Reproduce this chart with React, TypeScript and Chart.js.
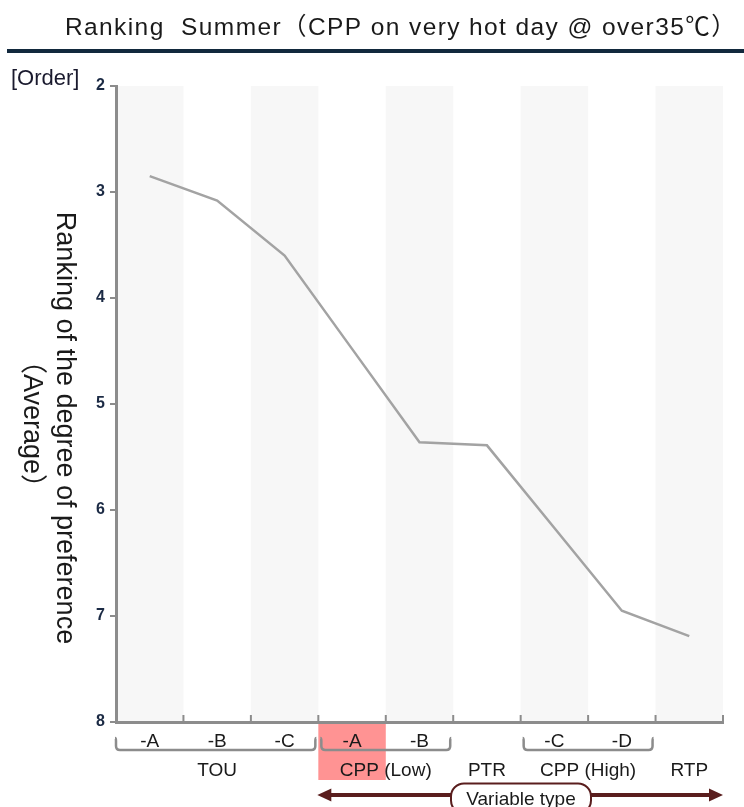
import React, { useEffect, useRef } from "react";
import { Chart, registerables } from "chart.js";

Chart.register(...registerables);

const chartTitle = "Ranking  Summer（CPP on very hot day @ over35℃）";
const yAxisTitleLines = ["Ranking of the degree of preference", "（Average）"];
const yUnitLabel = "[Order]";
const categoryKeys = ["TOU-A", "TOU-B", "TOU-C", "CPPL-A", "CPPL-B", "PTR", "CPPH-C", "CPPH-D", "RTP"];
const subLabels = ["-A", "-B", "-C", "-A", "-B", "", "-C", "-D", ""];
const groupNames = ["TOU", "CPP (Low)", "PTR", "CPP (High)", "RTP"];
const groupStarts = [0, 3, 5, 6, 8];
const groupEnds = [2, 4, 5, 7, 8];
const rankValues = [2.85, 3.08, 3.6, 4.48, 5.36, 5.39, 6.17, 6.95, 7.19];
const highlightIndex = 3;
const arrowLabel = "Variable type";
const yMin = 2;
const yMax = 8;

const FONT = "'Liberation Sans', Arial, 'Noto Sans CJK JP', sans-serif";
const AXIS_GRAY = "#8c8c8c";
const MAROON = "#5a1e1e";
const TEXT = "#1a1a1a";

const decorPlugin = {
  id: "decor",
  beforeDraw(chart: any) {
    const { ctx, chartArea } = chart;
    const { left, right, top, bottom } = chartArea;
    const n = categoryKeys.length;
    const w = (right - left) / n;
    ctx.save();
    ctx.fillStyle = "#ffffff";
    ctx.fillRect(0, 0, chart.width, chart.height);
    ctx.fillStyle = "#f7f7f7";
    for (let i = 0; i < n; i += 2) {
      ctx.fillRect(left + i * w, top, w, bottom - top);
    }
    ctx.fillStyle = "#ff9393";
    ctx.fillRect(left + highlightIndex * w, bottom, w, 58);
    ctx.restore();
  },
  afterDraw(chart: any) {
    const { ctx, chartArea } = chart;
    const { left, right, bottom } = chartArea;
    const n = categoryKeys.length;
    const w = (right - left) / n;
    const xs = chart.scales.x;
    ctx.save();

    // title
    ctx.fillStyle = TEXT;
    ctx.font = `24.5px ${FONT}`;
    ctx.textAlign = "center";
    ctx.textBaseline = "alphabetic";
    (ctx as any).letterSpacing = "1.4px";
    ctx.fillText(chartTitle, 401, 35);
    (ctx as any).letterSpacing = "0px";

    // separator
    ctx.strokeStyle = "#12293d";
    ctx.lineWidth = 4;
    ctx.beginPath();
    ctx.moveTo(7, 51);
    ctx.lineTo(chart.width, 51);
    ctx.stroke();

    // unit label
    ctx.fillStyle = "#1a1a2e";
    ctx.font = `22px ${FONT}`;
    ctx.textAlign = "left";
    ctx.fillText(yUnitLabel, 11, 85);

    // y title rotated clockwise
    ctx.fillStyle = TEXT;
    ctx.font = `27px ${FONT}`;
    ctx.textAlign = "center";
    ctx.textBaseline = "middle";
    const ytPos = [
      [64, 428],
      [31, 424],
    ];
    yAxisTitleLines.forEach((line, i) => {
      ctx.save();
      ctx.translate(ytPos[i][0], ytPos[i][1]);
      ctx.rotate(Math.PI / 2);
      ctx.fillText(line, 0, 0);
      ctx.restore();
    });

    // inward ticks on x axis
    ctx.strokeStyle = AXIS_GRAY;
    ctx.lineWidth = 2;
    for (let i = 1; i <= n; i++) {
      const x = left + i * w;
      ctx.beginPath();
      ctx.moveTo(x, bottom);
      ctx.lineTo(x, bottom - 7);
      ctx.stroke();
    }

    // sub labels
    ctx.fillStyle = TEXT;
    ctx.font = `19px ${FONT}`;
    ctx.textAlign = "center";
    ctx.textBaseline = "alphabetic";
    subLabels.forEach((lab, i) => {
      if (lab) ctx.fillText(lab, xs.getPixelForValue(i), 746.5);
    });

    // brackets & group labels
    ctx.strokeStyle = AXIS_GRAY;
    ctx.lineWidth = 2.5;
    groupNames.forEach((name, g) => {
      const s = groupStarts[g];
      const e = groupEnds[g];
      const cx = (xs.getPixelForValue(s) + xs.getPixelForValue(e)) / 2;
      ctx.fillText(name, cx, 776);
      if (e > s) {
        const x1 = left + s * w + (s === 0 ? 0 : 3);
        const x2 = left + (e + 1) * w - 3;
        const yTop = 738;
        const yB = 750;
        ctx.beginPath();
        ctx.moveTo(x1 - 1, yTop);
        ctx.quadraticCurveTo(x1, yTop, x1, yTop + 3);
        ctx.lineTo(x1, yB - 4);
        ctx.quadraticCurveTo(x1, yB, x1 + 4, yB);
        ctx.lineTo(x2 - 4, yB);
        ctx.quadraticCurveTo(x2, yB, x2, yB - 4);
        ctx.lineTo(x2, yTop + 3);
        ctx.quadraticCurveTo(x2, yTop, x2 + 1, yTop);
        ctx.stroke();
      }
    });

    // arrow
    const ay = 795;
    const ax1 = left + highlightIndex * w - 1;
    const ax2 = right;
    ctx.strokeStyle = MAROON;
    ctx.fillStyle = MAROON;
    ctx.lineWidth = 4;
    ctx.beginPath();
    ctx.moveTo(ax1 + 10, ay);
    ctx.lineTo(ax2 - 10, ay);
    ctx.stroke();
    ctx.beginPath();
    ctx.moveTo(ax1, ay);
    ctx.lineTo(ax1 + 14, ay - 6.5);
    ctx.lineTo(ax1 + 14, ay + 6.5);
    ctx.closePath();
    ctx.fill();
    ctx.beginPath();
    ctx.moveTo(ax2, ay);
    ctx.lineTo(ax2 - 14, ay - 6.5);
    ctx.lineTo(ax2 - 14, ay + 6.5);
    ctx.closePath();
    ctx.fill();

    // pill
    ctx.fillStyle = "#ffffff";
    ctx.lineWidth = 2;
    ctx.beginPath();
    (ctx as any).roundRect(451, 783.5, 140, 30, 13);
    ctx.fill();
    ctx.stroke();
    ctx.fillStyle = TEXT;
    ctx.font = `19px ${FONT}`;
    ctx.textAlign = "center";
    ctx.fillText(arrowLabel, 521, 805);

    ctx.restore();
  },
};

export default function App() {
  const ref = useRef<HTMLCanvasElement | null>(null);
  useEffect(() => {
    if (!ref.current) return;
    const chart = new Chart(ref.current, {
      type: "line",
      data: {
        labels: categoryKeys,
        datasets: [
          {
            data: rankValues,
            borderColor: "#a3a3a3",
            borderWidth: 2.5,
            pointRadius: 0,
            tension: 0,
            fill: false,
          },
        ],
      },
      options: {
        responsive: true,
        maintainAspectRatio: false,
        animation: false,
        layout: { padding: { top: 86, right: 21, left: 0, bottom: 0 } },
        plugins: {
          legend: { display: false },
          tooltip: { enabled: false },
          title: { display: false },
        },
        scales: {
          x: {
            offset: true,
            grid: { display: false },
            border: { display: true, color: AXIS_GRAY, width: 3 },
            ticks: { display: false },
            afterFit: (s: any) => {
              s.height = 85;
            },
          },
          y: {
            min: yMin,
            max: yMax,
            reverse: true,
            ticks: {
              stepSize: 1,
              padding: 5,
              color: "#1b2a44",
              font: { family: FONT, size: 16, weight: "bold" },
            },
            grid: { drawOnChartArea: false, tickLength: 6, color: AXIS_GRAY, lineWidth: 2 },
            border: { display: true, color: AXIS_GRAY, width: 3 },
            afterFit: (s: any) => {
              s.width = 116;
            },
          },
        },
      },
      plugins: [decorPlugin],
    });
    return () => chart.destroy();
  }, []);
  return (
    <div style={{ position: "absolute", left: 0, top: 0, width: 744, height: 807 }}>
      <canvas ref={ref} />
    </div>
  );
}
